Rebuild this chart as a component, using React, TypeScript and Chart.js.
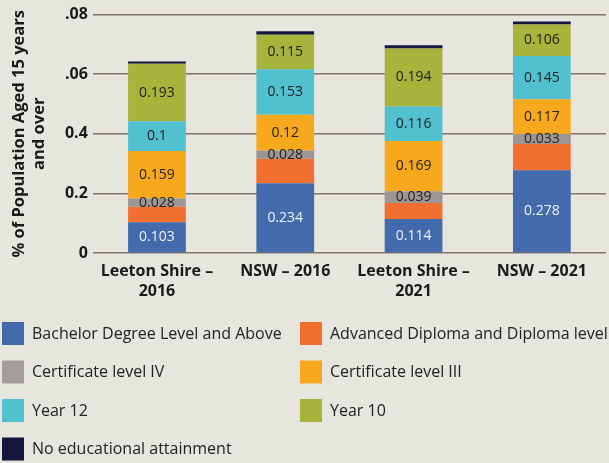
import React, { useEffect, useRef } from "react";
import { Chart, registerables } from "chart.js";

Chart.register(...registerables);

const categories: (string | string[])[] = [
  ["Leeton Shire –", "2016"],
  "NSW – 2016",
  ["Leeton Shire –", "2021"],
  "NSW – 2021",
];
const yTickLabels = ["0", "0.2", "0.4", ".06", ".08"];

const bachelor = [0.103, 0.234, 0.114, 0.278];
const advDiploma = [0.052, 0.082, 0.054, 0.088];
const certIV = [0.028, 0.028, 0.039, 0.033];
const certIII = [0.159, 0.12, 0.169, 0.117];
const year12 = [0.1, 0.153, 0.116, 0.145];
const year10 = [0.193, 0.115, 0.194, 0.106];
const noEducation = [0.008, 0.012, 0.011, 0.01];

const seriesNames = [
  "Bachelor Degree Level and Above",
  "Advanced Diploma and Diploma level",
  "Certificate level IV",
  "Certificate level III",
  "Year 12",
  "Year 10",
  "No educational attainment",
];
const seriesValues = [bachelor, advDiploma, certIV, certIII, year12, year10, noEducation];
const seriesColors = ["#436aab", "#f26f30", "#9b9692", "#f8a81c", "#52c1cf", "#a5b43a", "#14163f"];
const legendColors = ["#436aab", "#f26f30", "#a39c98", "#f8a81c", "#52c1cf", "#a5b43a", "#14163f"];
const showValueLabel = [true, false, true, true, true, true, false];
const labelColors = ["#eef2fa", "#222", "#222", "#222", "#222", "#222", "#222"];

const FONT = "'Open Sans', 'Noto Sans', sans-serif";

const valueLabelPlugin = {
  id: "valueLabels",
  afterDatasetsDraw(chart: any) {
    const ctx = chart.ctx;
    ctx.save();
    ctx.font = `14px ${FONT}`;
    ctx.textAlign = "center";
    ctx.textBaseline = "middle";
    chart.data.datasets.forEach((ds: any, i: number) => {
      if (!showValueLabel[i]) return;
      const meta = chart.getDatasetMeta(i);
      meta.data.forEach((el: any, j: number) => {
        const { x, y, base } = el.getProps(["x", "y", "base"], true);
        ctx.fillStyle = labelColors[i];
        ctx.fillText(String(ds.data[j]), x, (y + base) / 2);
      });
    });
    ctx.restore();
  },
};

const legendPlugin = {
  id: "customLegend",
  afterDraw(chart: any) {
    const ctx = chart.ctx;
    ctx.save();
    ctx.font = `16px ${FONT}`;
    ctx.textAlign = "left";
    ctx.textBaseline = "middle";
    const colX = [2, 300];
    chart.data.datasets.forEach((ds: any, i: number) => {
      const col = i % 2;
      const row = Math.floor(i / 2);
      const x = colX[col];
      const y = 322 + row * 38.5;
      ctx.fillStyle = legendColors[i];
      ctx.fillRect(x, y, 22, 23);
      ctx.fillStyle = "#222";
      ctx.fillText(ds.label, x + 30, y + 12);
    });
    ctx.restore();
  },
};

export default function App() {
  const ref = useRef<HTMLCanvasElement>(null);
  useEffect(() => {
    document.body.style.margin = "0";
    document.body.style.background = "#e6e5de";
    if (!ref.current) return;
    const chart = new Chart(ref.current, {
      type: "bar",
      data: {
        labels: categories,
        datasets: seriesNames.map((name, i) => ({
          label: name,
          data: seriesValues[i],
          backgroundColor: seriesColors[i],
          borderWidth: 0,
          barPercentage: 0.45,
          categoryPercentage: 1,
        })),
      },
      options: {
        animation: false,
        responsive: false,
        layout: { padding: { top: 3, right: 3, bottom: 154, left: 10 } },
        plugins: {
          legend: { display: false },
          tooltip: { enabled: false },
        },
        scales: {
          x: {
            stacked: true,
            grid: { display: false, drawTicks: false },
            border: { display: false },
            ticks: {
              color: "#1a1a1a",
              font: { family: FONT, size: 16, weight: "bold", lineHeight: 1.25 },
              padding: 8,
              maxRotation: 0,
              autoSkip: false,
            },
          },
          y: {
            stacked: true,
            min: 0,
            max: 0.8,
            grid: { color: "#7a7570", lineWidth: 1.5, drawTicks: false },
            border: { display: false },
            ticks: {
              stepSize: 0.2,
              color: "#1a1a1a",
              font: { family: FONT, size: 16, weight: "bold" },
              padding: 5,
              callback: (_v: any, idx: number) => yTickLabels[idx],
            },
            title: {
              display: true,
              text: ["% of Population Aged 15 years", "and over"],
              color: "#1a1a1a",
              font: { family: FONT, size: 16.5, weight: "bold", lineHeight: 1.18 },
              padding: { top: 0, bottom: 11 },
            },
          },
        },
      },
      plugins: [valueLabelPlugin, legendPlugin],
    });
    return () => chart.destroy();
  }, []);
  return (
    <div style={{ width: 609, height: 463, background: "#e6e5de" }}>
      <canvas ref={ref} width={609} height={463} />
    </div>
  );
}
